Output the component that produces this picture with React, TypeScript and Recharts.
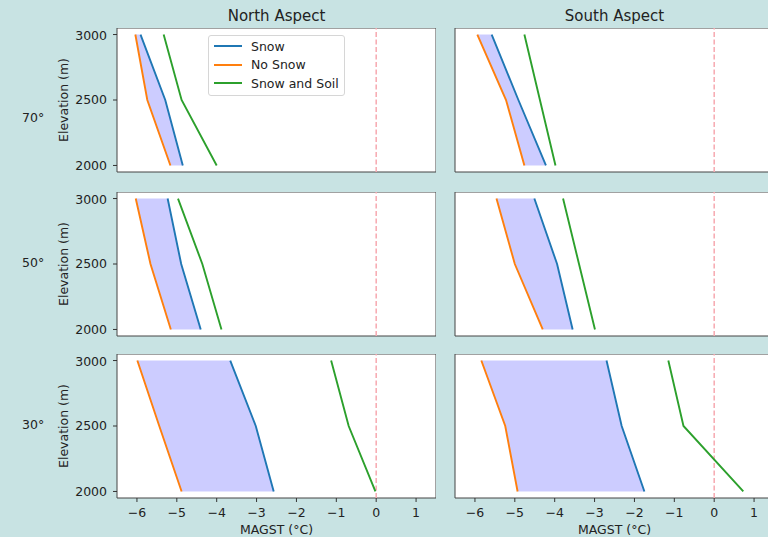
import {
  ComposedChart,
  Area,
  Line,
  XAxis,
  YAxis,
  CartesianGrid,
  ReferenceLine,
  ReferenceArea,
} from 'recharts'

const elevations = [2000, 2500, 3000]
const xTicks = [-6, -5, -4, -3, -2, -1, 0, 1]
const yTicks = [2000, 2500, 3000]

// values listed for 2000, 2500, 3000 m
const north70Snow = [-4.85, -5.29, -5.91]
const north70NoSnow = [-5.16, -5.74, -6.04]
const north70Soil = [-4.0, -4.88, -5.33]

const south70Snow = [-4.22, -4.91, -5.58]
const south70NoSnow = [-4.76, -5.22, -5.94]
const south70Soil = [-3.98, -4.37, -4.76]

const north50Snow = [-4.4, -4.89, -5.23]
const north50NoSnow = [-5.15, -5.66, -6.03]
const north50Soil = [-3.88, -4.36, -4.97]

const south50Snow = [-3.55, -3.94, -4.51]
const south50NoSnow = [-4.3, -5.0, -5.46]
const south50Soil = [-2.99, -3.39, -3.79]

const north30Snow = [-2.57, -3.02, -3.66]
const north30NoSnow = [-4.88, -5.44, -5.99]
const north30Soil = [-0.02, -0.69, -1.13]

const south30Snow = [-1.75, -2.32, -2.7]
const south30NoSnow = [-4.93, -5.24, -5.84]
const south30Soil = [0.73, -0.77, -1.15]

const rowLabels = ['70°', '50°', '30°']
const colTitles = ['North Aspect', 'South Aspect']

const BLUE = '#1f77b4'
const ORANGE = '#ff7f0e'
const GREEN = '#2ca02c'
const FONT = '"DejaVu Sans", sans-serif'
const TEXT = '#222'

function build(snow: number[], noSnow: number[], soil: number[]) {
  return elevations.map((elev, i) => ({
    elev,
    snow: snow[i],
    noSnow: noSnow[i],
    soil: soil[i],
    band: [noSnow[i], snow[i]],
  }))
}

const panels = [
  [build(north70Snow, north70NoSnow, north70Soil), build(south70Snow, south70NoSnow, south70Soil)],
  [build(north50Snow, north50NoSnow, north50Soil), build(south50Snow, south50NoSnow, south50Soil)],
  [build(north30Snow, north30NoSnow, north30Soil), build(south30Snow, south30NoSnow, south30Soil)],
]

const rowTops = [28, 191.5, 354]
const rowLabelCenters = [118, 263, 425]
const plotH = 144
const plotW = 319

function Panel({ data, col, row }: { data: any[]; col: number; row: number }) {
  const bottomRow = row === 2
  const yWidth = col === 0 ? 117 : 15
  const xHeight = bottomRow ? 40 : 6
  const left = col === 0 ? 0 : 440
  return (
    <div style={{ position: 'absolute', left, top: rowTops[row] }}>
      <ComposedChart
        width={yWidth + plotW}
        height={plotH + xHeight}
        data={data}
        layout="vertical"
        margin={{ top: 0, right: 0, bottom: 0, left: 0 }}
      >
        <CartesianGrid horizontal={false} vertical={false} fill="#fff" />
        <XAxis
          type="number"
          domain={[-6.5, 1.5]}
          ticks={xTicks}
          allowDataOverflow
          height={xHeight}
          axisLine={false}
          tickSize={4}
          tickMargin={6}
          tickLine={{ stroke: '#333' }}
          tick={bottomRow ? { fontSize: 12.5, fill: TEXT, fontFamily: FONT } : false}
          tickFormatter={(v: number) => (v < 0 ? '\u2212' + Math.abs(v) : String(v))}
          label={
            bottomRow
              ? { value: 'MAGST (°C)', position: 'insideBottom', offset: 4, fontSize: 12.5, fill: TEXT, fontFamily: FONT }
              : undefined
          }
        />
        <YAxis
          type="number"
          dataKey="elev"
          domain={[1950, 3050]}
          ticks={yTicks}
          reversed
          width={yWidth}
          axisLine={false}
          tickSize={4}
          tickMargin={6}
          tickLine={{ stroke: '#333' }}
          tick={col === 0 ? { fontSize: 12.5, fill: TEXT, fontFamily: FONT } : false}
          label={
            col === 0
              ? { value: 'Elevation (m)', angle: -90, position: 'center', dx: 5, fontSize: 12.5, fill: TEXT, fontFamily: FONT }
              : undefined
          }
        />
        <ReferenceLine x={0} stroke="#f7a8b0" strokeWidth={1.5} strokeDasharray="5 2.5" />
        <Area
          type="linear"
          dataKey="band"
          stroke="none"
          fill="#0000ff"
          fillOpacity={0.2}
          isAnimationActive={false}
        />
        <Line type="linear" dataKey="snow" stroke={BLUE} strokeWidth={1.9} dot={false} isAnimationActive={false} />
        <Line type="linear" dataKey="noSnow" stroke={ORANGE} strokeWidth={1.9} dot={false} isAnimationActive={false} />
        <Line type="linear" dataKey="soil" stroke={GREEN} strokeWidth={1.9} dot={false} isAnimationActive={false} />
        <ReferenceArea
          x1={-6.5}
          x2={1.5}
          y1={1950}
          y2={3050}
          fill="none"
          fillOpacity={0}
          stroke="#444"
          strokeWidth={1}
          ifOverflow="visible"
        />
      </ComposedChart>
    </div>
  )
}

const legendItems = [
  { name: 'Snow', color: BLUE },
  { name: 'No Snow', color: ORANGE },
  { name: 'Snow and Soil', color: GREEN },
]

export default function App() {
  return (
    <div
      style={{
        position: 'fixed',
        left: 0,
        top: 0,
        width: 768,
        height: 537,
        overflow: 'hidden',
        background: '#c8e3e3',
        fontFamily: FONT,
        color: TEXT,
      }}
    >
      {colTitles.map((t, c) => (
        <div
          key={t}
          style={{
            position: 'absolute',
            left: c === 0 ? 117 : 455,
            width: plotW,
            top: 7,
            textAlign: 'center',
            fontSize: 15,
          }}
        >
          {t}
        </div>
      ))}
      {rowLabels.map((t, r) => (
        <div
          key={t}
          style={{
            position: 'absolute',
            left: 22,
            top: rowLabelCenters[r] - 8,
            fontSize: 12.5,
            lineHeight: '16px',
          }}
        >
          {t}
        </div>
      ))}
      {panels.map((rowPanels, r) =>
        rowPanels.map((data, c) => <Panel key={`${r}-${c}`} data={data} col={c} row={r} />)
      )}
      <div
        style={{
          position: 'absolute',
          left: 208,
          top: 35,
          width: 137,
          height: 61,
          background: 'rgba(255,255,255,0.85)',
          border: '1px solid #d6d6d6',
          borderRadius: 3,
          padding: '1px 0 0 0',
          boxSizing: 'border-box',
        }}
      >
        {legendItems.map((it) => (
          <div key={it.name} style={{ display: 'flex', alignItems: 'center', height: 18.5, fontSize: 12.5 }}>
            <span style={{ display: 'inline-block', width: 28, height: 2, background: it.color, marginLeft: 5, marginRight: 9 }} />
            {it.name}
          </div>
        ))}
      </div>
    </div>
  )
}
